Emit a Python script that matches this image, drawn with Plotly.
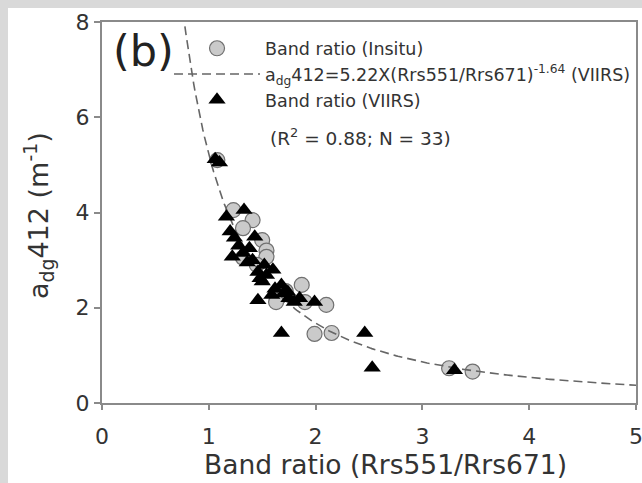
import plotly.graph_objects as go
import numpy as np

# ---- data ----
insitu_x = [1.08, 1.23, 1.41, 1.32, 1.50, 1.54, 1.32, 1.54, 1.45, 1.87, 1.72, 1.66, 1.90, 2.10, 1.63, 1.99, 2.15, 3.25, 3.47]
insitu_y = [5.10, 4.05, 3.84, 3.67, 3.42, 3.20, 3.05, 3.07, 2.90, 2.48, 2.35, 2.23, 2.12, 2.06, 2.12, 1.45, 1.47, 0.73, 0.66]

viirs_x = [1.06, 1.10, 1.165, 1.33, 1.24, 1.43, 1.22, 1.32, 1.41, 1.46, 1.54, 1.60, 1.68, 1.74, 1.46, 1.80, 1.99,
           1.59, 1.68, 2.46, 2.53, 3.30, 1.28, 1.36, 1.50, 1.62, 1.75, 1.20, 1.38, 1.52, 1.70, 1.85, 1.48]
viirs_y = [5.12, 5.05, 3.91, 4.05, 3.47, 3.49, 3.07, 3.15, 3.00, 2.75, 2.69, 2.80, 2.48, 2.33, 2.16, 2.12, 2.12,
           2.27, 1.47, 1.47, 0.74, 0.69, 3.30, 2.95, 2.55, 2.40, 2.20, 3.60, 3.25, 2.90, 2.30, 2.20, 2.62]

fit_a = 5.22
fit_b = -1.64
fit_x = np.linspace(0.7, 5.0, 300)
fit_y = fit_a * fit_x ** fit_b

x_ticks = [0, 1, 2, 3, 4, 5]
y_ticks = [0, 2, 4, 6, 8]

FONT = "DejaVu Sans"
TXT = "#333333"
AX = "#8a8a8a"

fig = go.Figure()
fig.add_trace(go.Scatter(
    x=insitu_x, y=insitu_y, mode="markers", name="Band ratio (Insitu)",
    marker=dict(symbol="circle", size=15, color="#cacaca", line=dict(color="#707070", width=1.2)),
))
fig.add_trace(go.Scatter(
    x=fit_x, y=fit_y, mode="lines",
    name="a<sub>dg</sub>412=5.22X(Rrs551/Rrs671)<sup>-1.64</sup> (VIIRS)",
    line=dict(color="#666666", width=1.6, dash="9px,5px"),
))
fig.add_trace(go.Scatter(
    x=viirs_x, y=viirs_y, mode="markers", name="Band ratio (VIIRS)",
    marker=dict(symbol="triangle-up", size=15, color="#000000", line=dict(color="#000000", width=0)),
))

fig.update_layout(
    width=642, height=483,
    margin=dict(l=102, r=6, t=22, b=80, autoexpand=False),
    paper_bgcolor="white", plot_bgcolor="white",
    font=dict(family=FONT, color=TXT),
    showlegend=True,
    legend=dict(
        x=0.1255, y=0.978, xanchor="left", yanchor="top",
        bgcolor="rgba(0,0,0,0)", font=dict(size=17.5, color=TXT),
        itemwidth=86, tracegroupgap=0,
    ),
    xaxis=dict(
        range=[0, 5], tickvals=x_ticks, ticktext=[str(v) for v in x_ticks],
        showgrid=False, zeroline=False, showline=True, linecolor=AX, linewidth=2,
        mirror=True, ticks="outside", ticklen=5, tickcolor=AX, tickwidth=1.5,
        tickfont=dict(size=22, color=TXT), ticklabelstandoff=8, automargin=False,
        ticklabeloverflow="allow",
    ),
    yaxis=dict(
        range=[0, 8], tickvals=y_ticks, ticktext=[str(v) for v in y_ticks],
        showgrid=False, zeroline=False, showline=True, linecolor=AX, linewidth=2,
        mirror=True, ticks="outside", ticklen=6, tickcolor=AX, tickwidth=1.5,
        tickfont=dict(size=22, color=TXT), automargin=False, ticklabeloverflow="allow",
    ),
    annotations=[
        dict(text="Band ratio (Rrs551/Rrs671)", xref="paper", yref="paper", x=0.53, y=-0.162,
             xanchor="center", yanchor="middle", showarrow=False, font=dict(size=26.5, color=TXT)),
        dict(text="a<sub>dg</sub>412 (m<sup>-1</sup>)", xref="paper", yref="paper", x=-0.12, y=0.493,
             xanchor="center", yanchor="middle", textangle=-90, showarrow=False,
             font=dict(size=27, color=TXT)),
        dict(text="(b)", xref="paper", yref="paper", x=0.017, y=0.925, xanchor="left", yanchor="middle",
             showarrow=False, font=dict(size=43, color="#222222")),
        dict(text="(R<sup>2</sup> = 0.88; N = 33)", xref="paper", yref="paper", x=0.31, y=0.698,
             xanchor="left", yanchor="middle", showarrow=False, font=dict(size=18.5, color=TXT)),
    ],
    shapes=[
        dict(type="rect", xref="paper", yref="paper", x0=-0.25, x1=1.1, y0=1.0367, y1=1.1,
             fillcolor="#d9d9d9", line=dict(width=0), layer="above"),
        dict(type="rect", xref="paper", yref="paper", x0=-0.25, x1=-0.176, y0=-0.3, y1=1.1,
             fillcolor="#d9d9d9", line=dict(width=0), layer="above"),
    ],
)

fig.write_html("out.html")
